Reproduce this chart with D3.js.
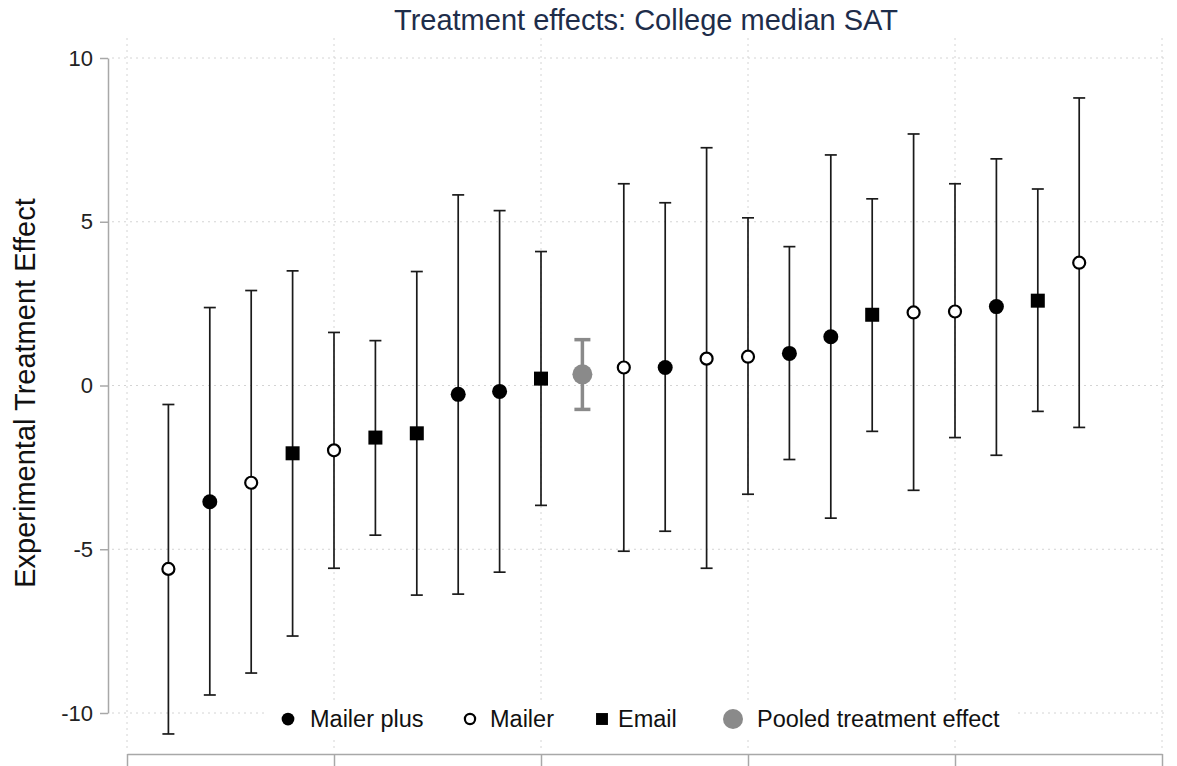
<!DOCTYPE html>
<html>
<head>
<meta charset="utf-8">
</head>
<body style="margin:0;background:#fff">

<script src="https://d3js.org/d3.v7.min.js"></script>
<style>

body {
    font-family: "Liberation Sans", Arial, sans-serif;
}

.grid line {
    stroke: #d4d4d4;
    stroke-dasharray: 2,4;
}

.axis path, .axis line {
    stroke: #a8a8a8;
    stroke-width: 1.5;
}

.axis text {
    font-family: "Liberation Sans", Arial, sans-serif;
    font-size: 22px;
    fill: #222;
}

</style>

<script>

// estimates by study arm, ordered by size (x position 1..23)
var arms   = ["Mailer", "Mailer plus", "Mailer", "Email", "Mailer", "Email", "Email",
              "Mailer plus", "Mailer plus", "Email", "Pooled",
              "Mailer", "Mailer plus", "Mailer", "Mailer", "Mailer plus", "Mailer plus",
              "Email", "Mailer", "Mailer", "Mailer plus", "Email", "Mailer"];
var effect = [-5.6, -3.55, -2.97, -2.07, -1.98, -1.59, -1.46, -0.27, -0.18, 0.21, 0.34,
              0.55, 0.55, 0.82, 0.88, 0.98, 1.49, 2.16, 2.23, 2.26, 2.41, 2.59, 3.75];
var upper  = [-0.58, 2.38, 2.9, 3.5, 1.62, 1.37, 3.48, 5.82, 5.34, 4.09, 1.4,
              6.16, 5.58, 7.26, 5.12, 4.24, 7.04, 5.7, 7.68, 6.16, 6.92, 6.0, 8.78];
var lower  = [-10.64, -9.45, -8.78, -7.65, -5.58, -4.57, -6.4, -6.37, -5.7, -3.66, -0.73,
              -5.06, -4.45, -5.58, -3.32, -2.26, -4.05, -1.4, -3.2, -1.59, -2.13, -0.79, -1.28];

var yTicks = [-10, -5, 0, 5, 10];
var xTicks = [0, 5, 10, 15, 20, 25];
var legendItems = ["Mailer plus", "Mailer", "Email", "Pooled"];
var legendLabels = ["Mailer plus", "Mailer", "Email", "Pooled treatment effect"];

var data = effect.map(function(d, i) {
    return {pos: i + 1, arm: arms[i], est: d, hi: upper[i], lo: lower[i]};
});

var W = 1177, H = 766;

var svg = d3.select("body").append("svg")
    .attr("width", W)
    .attr("height", H);

var xScale = d3.scaleLinear().domain([0, 25]).range([127, 1162]);
var yScale = d3.scaleLinear().domain([-10, 10]).range([713, 58]);

// gridlines
svg.append("g").attr("class", "grid")
  .selectAll("line").data(yTicks).enter().append("line")
    .attr("x1", 112).attr("x2", 1166)
    .attr("y1", function(d) { return yScale(d) })
    .attr("y2", function(d) { return yScale(d) });

svg.append("g").attr("class", "grid")
  .selectAll("line").data(xTicks).enter().append("line")
    .attr("x1", function(d) { return xScale(d) })
    .attr("x2", function(d) { return xScale(d) })
    .attr("y1", 38).attr("y2", 750);

// axes
var yAxis = d3.axisLeft(yScale).tickValues(yTicks).tickSize(8).tickSizeOuter(0).tickPadding(7)
    .tickFormat(function(d) { return String(d) });
svg.append("g").attr("class", "axis")
   .attr("transform", "translate(108,0)")
   .call(yAxis);

var xAxis = d3.axisBottom(xScale).tickValues(xTicks).tickSize(14).tickSizeOuter(0).tickFormat("");
svg.append("g").attr("class", "axis")
   .attr("transform", "translate(0,754)")
   .call(xAxis);

// title and y label
svg.append("text")
   .attr("x", 646).attr("y", 30)
   .attr("text-anchor", "middle")
   .style("font-size", "29px")
   .style("fill", "#1e2d4a")
   .text("Treatment effects: College median SAT");

svg.append("text")
   .attr("transform", "translate(35,393) rotate(-90)")
   .attr("text-anchor", "middle")
   .style("font-size", "29px")
   .style("fill", "#111")
   .text("Experimental Treatment Effect");

// error bars
var bars = svg.selectAll(".bar")
    .data(data)
  .enter().append("g")
    .attr("class", "bar")
    .attr("transform", function(d) { return "translate(" + xScale(d.pos) + ",0)" });

bars.each(function(d) {
    var g = d3.select(this);
    var pooled = d.arm == "Pooled";
    var col = pooled ? "#8a8a8a" : "#1a1a1a";
    var sw = pooled ? 3.5 : 1.7;
    var cap = pooled ? 8 : 6;
    g.append("line").attr("x1", 0).attr("x2", 0)
     .attr("y1", yScale(d.hi)).attr("y2", yScale(d.lo))
     .style("stroke", col).style("stroke-width", sw);
    [d.hi, d.lo].forEach(function(v) {
        g.append("line").attr("x1", -cap).attr("x2", cap)
         .attr("y1", yScale(v)).attr("y2", yScale(v))
         .style("stroke", col).style("stroke-width", sw);
    });
    drawMarker(g, d.arm, 0, yScale(d.est), 1);
});

function drawMarker(g, arm, x, y, s) {
    if (arm == "Mailer plus") {
        g.append("circle").attr("cx", x).attr("cy", y).attr("r", 7.5 * s).style("fill", "#000");
    } else if (arm == "Mailer") {
        g.append("circle").attr("cx", x).attr("cy", y).attr("r", 6 * s)
         .style("fill", "#fff").style("stroke", "#000").style("stroke-width", 2.2);
    } else if (arm == "Email") {
        g.append("rect").attr("x", x - 7 * s).attr("y", y - 7 * s)
         .attr("width", 14 * s).attr("height", 14 * s).style("fill", "#000");
    } else {
        g.append("circle").attr("cx", x).attr("cy", y).attr("r", 10 * s).style("fill", "#8a8a8a");
    }
}

// legend
var legX = [288, 470, 602, 733];
var legTextX = [310, 490, 618, 757];
var legend = svg.append("g");
legend.append("rect")
   .attr("x", 268).attr("y", 700).attr("width", 748).attr("height", 38)
   .style("fill", "#fff");
legendItems.forEach(function(k, i) {
    drawMarker(legend, k, legX[i], 719, k == "Pooled" ? 1 : 0.85);
    legend.append("text")
       .attr("x", legTextX[i]).attr("y", 727)
       .style("font-size", "23.5px")
       .style("fill", "#111")
       .text(legendLabels[i]);
});

</script>
</body>
</html>
